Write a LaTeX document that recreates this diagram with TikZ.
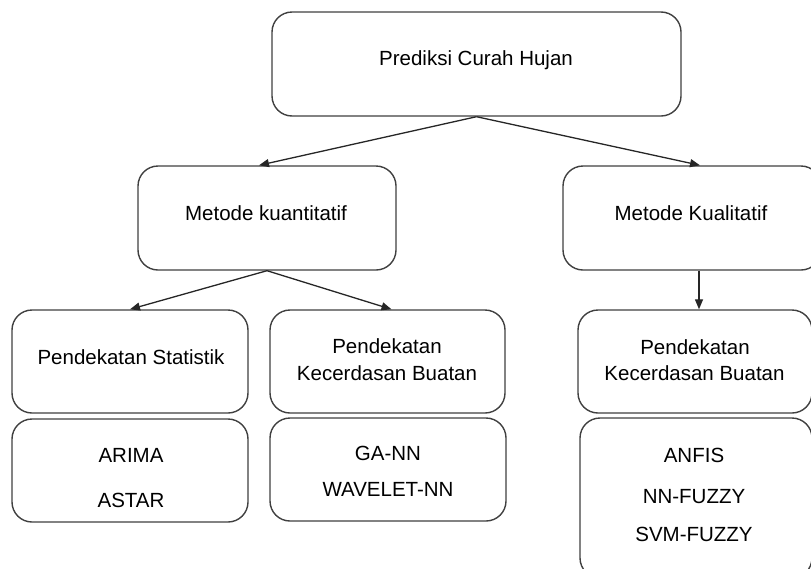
\documentclass[tikz,border=0pt]{standalone}
\usepackage{fontspec}
\setmainfont{Liberation Sans}
\usetikzlibrary{arrows.meta,calc}
\begin{document}
\begin{tikzpicture}[x=1pt,y=-1pt,
  box/.style={draw=black!75,line width=1.4pt,rounded corners=20pt,fill=white,inner sep=0pt},
  txt/.style={anchor=base,inner sep=0pt,font=\fontsize{20.5}{27}\selectfont,text=black},
  arr/.style={draw=black!85,line width=1.3pt,-{Triangle[length=10pt,width=8pt]}}]
\useasboundingbox (0,0) rectangle (811,568);
\clip (0,0) rectangle (811,568);
% boxes
\node[box,minimum width=409pt,minimum height=104pt] (top) at (476.5,64) {};
\node[box,minimum width=258pt,minimum height=104pt] (kuan) at (267,218) {};
\node[box,minimum width=258pt,minimum height=104pt] (kual) at (692,218) {};
\node[box,minimum width=236pt,minimum height=103pt] (stat) at (130,361.5) {};
\node[box,minimum width=235pt,minimum height=103pt] (aim) at (387.5,361.5) {};
\node[box,minimum width=234pt,minimum height=103pt] (aik) at (695,361.5) {};
\node[box,minimum width=236pt,minimum height=103pt] (statm) at (130,470.5) {};
\node[box,minimum width=236pt,minimum height=103pt] (aimm) at (388,469.5) {};
\node[box,minimum width=232pt,minimum height=160pt] (aikm) at (696,498) {};
% texts
\node[txt] (t1) at (476,65) {Prediksi Curah Hujan};
\node[txt] (t2) at (266,220) {Metode kuantitatif};
\node[txt] (t3) at (691,220) {Metode Kualitatif};
\node[txt] (t4) at (131,364) {Pendekatan Statistik};
\node[txt] (t5a) at (387,353) {Pendekatan};
\node[txt] (t5b) at (387,380) {Kecerdasan Buatan};
\node[txt] (t6a) at (695,354) {Pendekatan};
\node[txt] (t6b) at (694.5,380) {Kecerdasan Buatan};
\node[txt] (t7a) at (131,462) {ARIMA};
\node[txt] (t7b) at (131,507) {ASTAR};
\node[txt] (t8a) at (388,460) {GA-NN};
\node[txt] (t8b) at (388,496) {WAVELET-NN};
\node[txt] (t9a) at (694,462) {ANFIS};
\node[txt] (t9b) at (694,503) {NN-FUZZY};
\node[txt] (t9c) at (694,541) {SVM-FUZZY};
% connectors
\draw[arr] (top.south) -- ($(kuan.north)+(-8,0)$);
\draw[arr] (top.south) -- ($(kual.north)+(8,0)$);
\draw[arr] (kuan.south) -- (stat.north);
\draw[arr] (kuan.south) -- ($(aim.north)+(4,0)$);
\draw[arr] ($(kual.south)+(7,0)$) -- ($(aik.north)+(4,0)$);
\end{tikzpicture}
\end{document}
